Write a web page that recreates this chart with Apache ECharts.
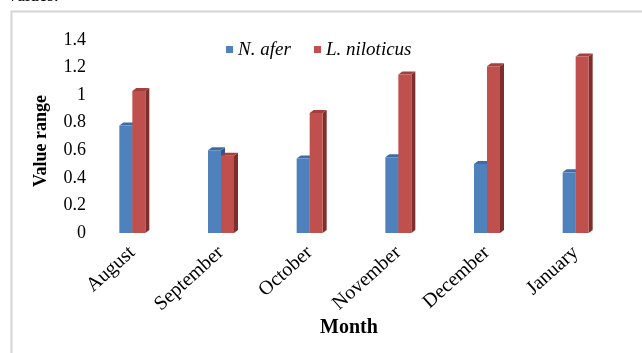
<!DOCTYPE html>
<html>
<head>
<meta charset="utf-8">
<script src="https://cdn.jsdelivr.net/npm/echarts@6/dist/echarts.min.js"></script>
<style>
  html, body { margin: 0; padding: 0; background: #ffffff; }
  #chart { width: 642px; height: 353px; }
</style>
</head>
<body>
<div id="chart"></div>
<script>
// Monthly values of the two species
const months = ['August', 'September', 'October', 'November', 'December', 'January'];
const nAfer = [0.78, 0.60, 0.54, 0.55, 0.50, 0.44];
const lNiloticus = [1.03, 0.56, 0.87, 1.15, 1.21, 1.28];
const yTicks = [0, 0.2, 0.4, 0.6, 0.8, 1, 1.2, 1.4];

const SERIF = '"Liberation Serif", "Times New Roman", serif';
const BAR_W = 13;
const DEPTH_X = 4;
const DEPTH_Y = 3;

// Pseudo-3D column: front face, darker right side and a top cap
function makeColumn(offset, front, side, topFace) {
  return function (params, api) {
    const base = api.coord([api.value(0), 0]);
    const top = api.coord([api.value(0), api.value(1)]);
    const x = base[0] + offset;
    const yTop = top[1];
    const yBase = base[1];
    return {
      type: 'group',
      children: [
        {
          type: 'polygon',
          shape: { points: [[x + BAR_W, yTop], [x + BAR_W + DEPTH_X, yTop - DEPTH_Y],
                            [x + BAR_W + DEPTH_X, yBase - DEPTH_Y], [x + BAR_W, yBase]] },
          style: { fill: side }
        },
        {
          type: 'polygon',
          shape: { points: [[x, yTop], [x + DEPTH_X, yTop - DEPTH_Y],
                            [x + BAR_W + DEPTH_X, yTop - DEPTH_Y], [x + BAR_W, yTop]] },
          style: { fill: topFace }
        },
        {
          type: 'rect',
          shape: { x: x, y: yTop, width: BAR_W, height: yBase - yTop },
          style: { fill: front }
        }
      ]
    };
  };
}

const legendText = { fontFamily: SERIF, fontStyle: 'italic', fontSize: 19, color: '#000', padding: [0, 0, 0, 0] };

const chart = echarts.init(document.getElementById('chart'));
chart.setOption({
  animation: false,
  backgroundColor: '#ffffff',
  grid: { left: 88, right: 22, top: 40, bottom: 120 },
  legend: [
    { left: 221, top: 35, itemWidth: 7, itemHeight: 7, icon: 'rect', textStyle: legendText, data: ['N. afer'] },
    { left: 309, top: 35, itemWidth: 7, itemHeight: 7, icon: 'rect', textStyle: legendText, data: ['L. niloticus'] }
  ],
  xAxis: {
    type: 'category',
    data: months,
    axisLine: { show: false },
    axisTick: { show: false },
    axisLabel: {
      rotate: 42,
      margin: 17,
      interval: 0,
      fontFamily: SERIF,
      fontSize: 20,
      color: '#000'
    }
  },
  yAxis: {
    type: 'value',
    min: yTicks[0],
    max: yTicks[yTicks.length - 1],
    interval: 0.2,
    axisLine: { show: false },
    axisTick: { show: false },
    splitLine: { show: false },
    axisLabel: {
      margin: 2,
      fontFamily: SERIF,
      fontSize: 18,
      color: '#000',
      formatter: function (v) { return String(Math.round(v * 10) / 10); }
    }
  },
  series: [
    {
      name: 'N. afer',
      type: 'custom',
      itemStyle: { color: '#4F81BD' },
      encode: { x: 0, y: 1 },
      data: nAfer.map((v, i) => [i, v]),
      renderItem: makeColumn(-BAR_W, '#4F81BD', '#34588A', '#3E6CA6'),
      z: 2
    },
    {
      name: 'L. niloticus',
      type: 'custom',
      itemStyle: { color: '#C0504D' },
      encode: { x: 0, y: 1 },
      data: lNiloticus.map((v, i) => [i, v]),
      renderItem: makeColumn(0, '#C0504D', '#7E2F2D', '#A33F3C'),
      z: 3
    }
  ],
  graphic: [
    {
      type: 'text',
      left: 8,
      top: -13,
      style: { text: 'values.', fontFamily: SERIF, fontSize: 18, fill: '#000' }
    },
    {
      type: 'rect',
      left: 9,
      top: 9,
      shape: { x: 0, y: 0, width: 700, height: 400 },
      style: { fill: 'none', stroke: '#d4d4d4', lineWidth: 2 },
      silent: true
    },
    {
      type: 'text',
      x: 349,
      y: 328,
      style: { text: 'Month', fontFamily: SERIF, fontWeight: 'bold', fontSize: 20, fill: '#000',
               align: 'center', verticalAlign: 'middle' }
    },
    {
      type: 'text',
      x: 41,
      y: 141,
      rotation: Math.PI / 2,
      style: { text: 'Value range', fontFamily: SERIF, fontWeight: 'bold', fontSize: 18, fill: '#000',
               align: 'center', verticalAlign: 'middle' }
    }
  ]
});
</script>
</body>
</html>
